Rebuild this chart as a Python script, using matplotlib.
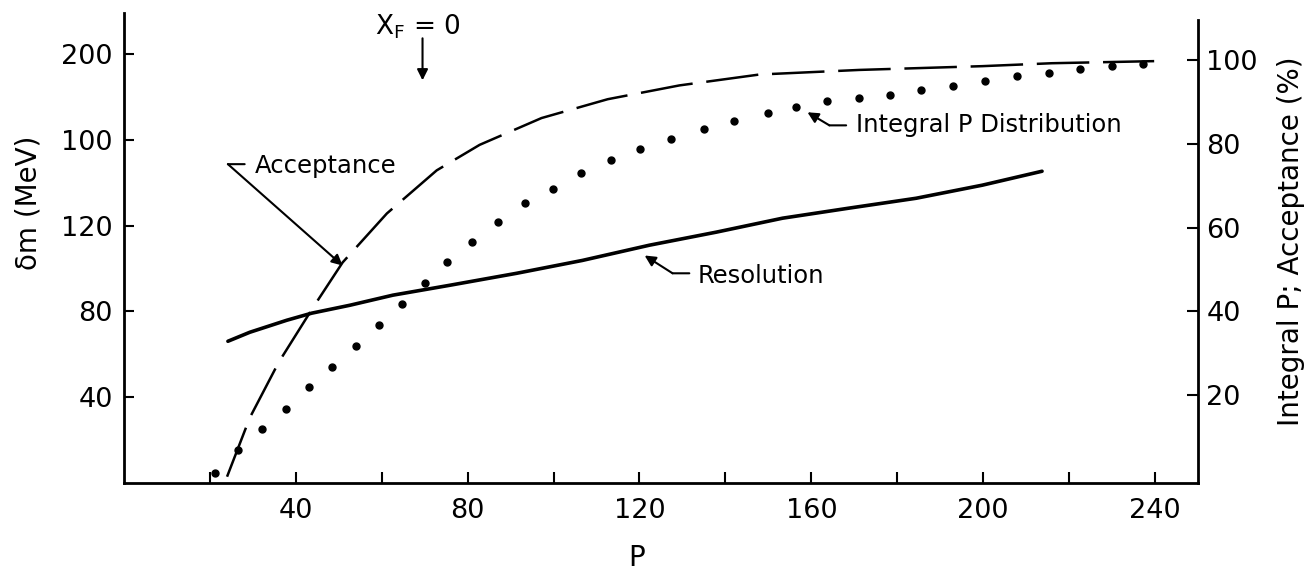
import matplotlib.pyplot as plt

# Resolution curve, left axis (delta m in MeV)
res_p = [24.2, 29.3, 37.9, 43.7, 52.6, 62.6, 75.8, 91.4, 106.7, 122.3,
         137.9, 153.3, 168.8, 184.4, 199.8, 213.7]
res_dm = [66.1, 70.3, 75.9, 79.2, 82.9, 87.6, 92.2, 97.8, 103.8, 110.9,
          117.0, 123.5, 128.2, 132.8, 138.9, 145.4]

# Acceptance curve, right axis (%)
acc_p = [24.0, 29.3, 36.0, 44.0, 50.9, 61.2, 72.8, 82.8, 97.2, 112.6,
         129.3, 147.9, 171.2, 199.8, 216.0, 239.8]
acc_pct = [0.5, 14.6, 27.8, 40.9, 51.7, 63.4, 73.7, 79.8, 86.2, 90.7,
           94.0, 96.6, 97.7, 98.6, 99.3, 99.8]

# Integral P distribution, right axis (%)
ipd_p = [21.2, 26.5, 32.1, 37.7, 43.0, 48.4, 54.0, 59.3, 64.7, 70.0,
         75.1, 80.9, 87.0, 93.3, 99.8, 106.3, 113.3, 120.2, 127.4, 135.1,
         142.1, 149.8, 156.5, 163.7, 171.2, 178.4, 185.6, 193.0, 200.5, 207.9,
         215.3, 222.6, 230.0, 237.2]
ipd_pct = [1.5, 6.9, 11.8, 16.7, 21.9, 26.8, 31.7, 36.7, 41.8, 46.7,
           51.7, 56.6, 61.3, 65.8, 69.3, 73.0, 76.1, 78.7, 81.3, 83.6,
           85.5, 87.4, 88.8, 90.2, 90.9, 91.8, 93.0, 93.9, 95.1, 96.3,
           97.0, 97.9, 98.6, 99.1]

x_ticks = [20, 40, 60, 80, 100, 120, 140, 160, 180, 200, 220, 240]
x_labels = ['', '40', '', '80', '', '120', '', '160', '', '200', '', '240']
left_ticks = [40, 80, 120, 160, 200]
left_labels = ['40', '80', '120', '100', '200']
right_ticks = [20, 40, 60, 80, 100]

plt.rcParams['font.family'] = 'DejaVu Sans'
plt.rcParams['mathtext.fontset'] = 'dejavusans'

fig = plt.figure(figsize=(13.06, 5.73), dpi=100)
ax = fig.add_axes([0.0949, 0.1571, 0.8224, 0.8202])
ax2 = ax.twinx()

ax.set_xlim(0, 250)
ax.set_ylim(0, 219.2)
ax2.set_ylim(-1.0, 111.3)

# curves
ax.plot(res_p, res_dm, color='black', lw=2.6, solid_capstyle='round')
ax2.plot(acc_p, acc_pct, color='black', lw=1.8, linestyle=(0, (21, 5.5)))
ax2.plot(ipd_p, ipd_pct, linestyle='none', marker='o', ms=5, color='black')

# spines
for s in ['top', 'right']:
    ax.spines[s].set_visible(False)
for s in ['top', 'left', 'bottom']:
    ax2.spines[s].set_visible(False)
ax.spines['left'].set_linewidth(2)
ax.spines['bottom'].set_linewidth(2)
ax2.spines['right'].set_linewidth(2)
ax2.spines['right'].set_bounds(-1.0, 109.6)

# ticks
ax.set_xticks(x_ticks)
ax.set_xticklabels(x_labels)
ax.set_yticks(left_ticks)
ax.set_yticklabels(left_labels)
ax2.set_yticks(right_ticks)
ax.tick_params(axis='x', direction='in', length=8, width=1.5, pad=11, labelsize=19.5)
ax.tick_params(axis='y', direction='in', length=7, width=1.5, pad=8, labelsize=19.5)
ax2.tick_params(axis='y', direction='in', length=8, width=1.5, pad=6, labelsize=19.5)

# axis labels
ax.set_xlabel('P', fontsize=20)
ax.xaxis.set_label_coords(0.477, -0.13)
ax.set_ylabel('δm (MeV)', fontsize=20)
ax.yaxis.set_label_coords(-0.076, 0.596)
ax2.set_ylabel('Integral P; Acceptance (%)', fontsize=20)
ax2.yaxis.set_label_coords(1.0736, 0.515)

# annotations
arrow = dict(arrowstyle='-|>', color='black', lw=1.5, mutation_scale=16,
             shrinkA=0, shrinkB=0)
plain = dict(arrowstyle='-', color='black', lw=1.5, shrinkA=0, shrinkB=0)

ax.text(30.5, 147.7, 'Acceptance', fontsize=17.5, ha='left', va='center')
ax.annotate('', xy=(24.2, 148.7), xytext=(28.1, 148.7), arrowprops=plain)
ax.annotate('', xy=(50.9, 101.4), xytext=(24.2, 148.7), arrowprops=arrow)

ax.text(133.5, 96.4, 'Resolution', fontsize=17.5, ha='left', va='center')
ax.annotate('', xy=(127.7, 97.8), xytext=(131.6, 97.8), arrowprops=plain)
ax.annotate('', xy=(121.2, 106.1), xytext=(127.7, 97.8), arrowprops=arrow)

ax.text(170.5, 166.8, 'Integral P Distribution', fontsize=17.5, ha='left', va='center')
ax.annotate('', xy=(164.2, 166.8), xytext=(168.1, 166.8), arrowprops=plain)
ax.annotate('', xy=(159.1, 172.9), xytext=(164.2, 166.8), arrowprops=arrow)

ax.text(68.5, 213.0, r'X$_\mathregular{F}$ = 0', fontsize=19, ha='center', va='center')
ax.annotate('', xy=(69.5, 187.8), xytext=(69.5, 207.4), arrowprops=arrow)

fig.savefig('out.png', dpi=100)
